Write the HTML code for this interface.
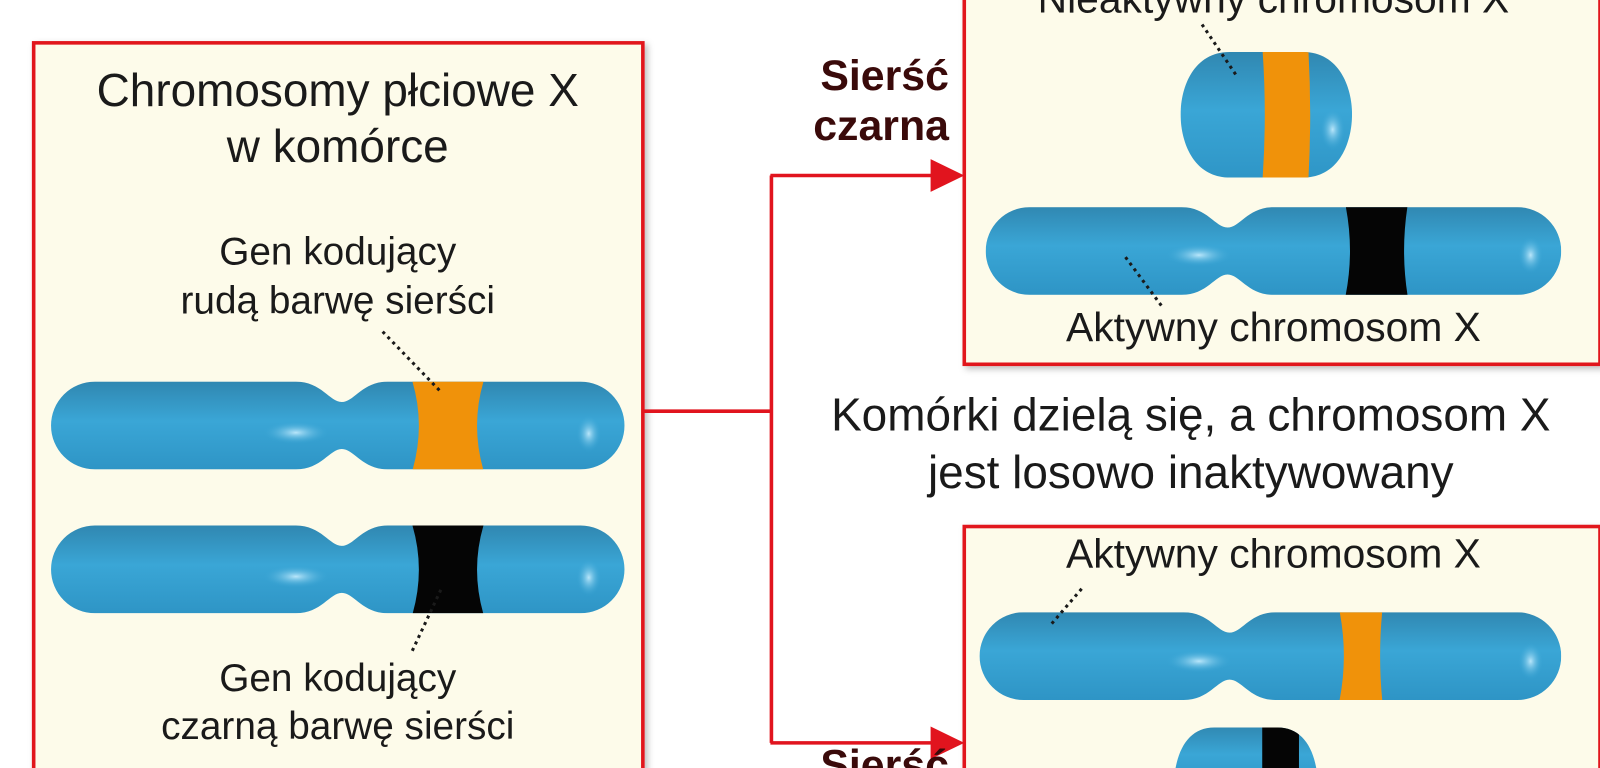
<!DOCTYPE html>
<html><head><meta charset="utf-8"><style>
html,body{margin:0;padding:0;background:#fff;width:1600px;height:768px;overflow:hidden;}
svg{display:block;}
text{font-family:"Liberation Sans","DejaVu Sans",sans-serif;fill:#1a1a1a;}
</style></head><body>
<svg width="1600" height="768" viewBox="0 0 1600 768" xmlns="http://www.w3.org/2000/svg">
<defs>
<linearGradient id="g" x1="0" y1="0" x2="0" y2="1">
<stop offset="0" stop-color="#2f84ad"/><stop offset="0.45" stop-color="#3aa6d6"/><stop offset="1" stop-color="#2d93c4"/>
</linearGradient>
<radialGradient id="hl"><stop offset="0" stop-color="#c8eeff" stop-opacity="0.9"/><stop offset="1" stop-color="#3aa6d6" stop-opacity="0"/></radialGradient>
<filter id="sh"><feDropShadow dx="3" dy="3" stdDeviation="3" flood-color="#000" flood-opacity="0.25"/></filter>
<clipPath id="c1"><path d="M93,374 L290,374 C315,374 323,394 335,394 C347,394 355,374 380,374 L569,374 A43 43 0 0 1 569,460 L380,460 C355,460 347,440 335,440 C323,440 315,460 290,460 L93,460 A43 43 0 0 1 93,374Z"/></clipPath>
<clipPath id="c3"><path d="M1009,203 L1158,203 C1183,203 1191,223 1203,223 C1215,223 1223,203 1248,203 L1487,203 A43 43 0 0 1 1487,289 L1248,289 C1223,289 1215,269 1203,269 C1191,269 1183,289 1158,289 L1009,289 A43 43 0 0 1 1009,203Z"/></clipPath>
<clipPath id="c4"><path d="M1003,600 L1160,600 C1185,600 1193,620 1205,620 C1217,620 1225,600 1250,600 L1487,600 A43 43 0 0 1 1487,686 L1250,686 C1225,686 1217,666 1205,666 C1193,666 1185,686 1160,686 L1003,686 A43 43 0 0 1 1003,600Z"/></clipPath>
<clipPath id="c5"><path d="M1205,51 L1277,51 C1312,51 1325,85 1325,112 C1325,140 1312,174 1277,174 L1205,174 C1170,174 1157,140 1157,112 C1157,85 1170,51 1205,51Z"/></clipPath>
<clipPath id="c6"><path d="M1190,713 L1252,713 C1280,713 1292,740 1292,777 L1150,777 C1150,740 1162,713 1190,713Z"/></clipPath>
</defs>
<g transform="scale(1.0204)">
<rect x="33" y="42" width="597" height="740" fill="#fdfbea" stroke="#e1141e" stroke-width="3.5" filter="url(#sh)"/>
<rect x="945" y="-10" width="623" height="367" fill="#fdfbea" stroke="#e1141e" stroke-width="3.5" filter="url(#sh)"/>
<rect x="945" y="516" width="623" height="270" fill="#fdfbea" stroke="#e1141e" stroke-width="3.5" filter="url(#sh)"/>

<path d="M631,403 H756 M756,172 V728 M755,172 H918 M755,728 H918" stroke="#e1141e" stroke-width="3.5" fill="none"/>
<polygon points="912,156 945,172 912,188" fill="#e1141e"/>
<polygon points="912,712 945,728 912,744" fill="#e1141e"/>

<g clip-path="url(#c1)">
<rect x="40" y="370" width="580" height="95" fill="url(#g)"/>
<path d="M403,370 Q418,417 403,465 L475,465 Q460,417 475,370Z" fill="#f0920a"/>
<ellipse cx="290" cy="424" rx="32" ry="11" fill="url(#hl)"/>
<ellipse cx="577" cy="425" rx="12" ry="18" fill="url(#hl)"/>
</g>
<g transform="translate(0,141)">
<g clip-path="url(#c1)">
<rect x="40" y="370" width="580" height="95" fill="url(#g)"/>
<path d="M403,370 Q418,417 403,465 L475,465 Q460,417 475,370Z" fill="#050505"/>
<ellipse cx="290" cy="424" rx="32" ry="11" fill="url(#hl)"/>
<ellipse cx="577" cy="425" rx="12" ry="18" fill="url(#hl)"/>
</g></g>

<g clip-path="url(#c5)">
<rect x="1150" y="45" width="180" height="140" fill="url(#g)"/>
<path d="M1237,45 Q1242,112 1237,180 L1282,180 Q1286,112 1282,45Z" fill="#f0920a"/>
<ellipse cx="1306" cy="127" rx="12" ry="20" fill="url(#hl)"/>
</g>
<g clip-path="url(#c3)">
<rect x="960" y="198" width="580" height="95" fill="url(#g)"/>
<path d="M1318,198 Q1328,246 1318,293 L1380,293 Q1372,246 1380,198Z" fill="#050505"/>
<ellipse cx="1175" cy="250" rx="32" ry="11" fill="url(#hl)"/>
<ellipse cx="1500" cy="250" rx="12" ry="18" fill="url(#hl)"/>
</g>

<g clip-path="url(#c4)">
<rect x="955" y="595" width="585" height="95" fill="url(#g)"/>
<path d="M1312,595 Q1322,643 1312,690 L1355,690 Q1350,643 1355,595Z" fill="#f0920a"/>
<ellipse cx="1175" cy="648" rx="32" ry="11" fill="url(#hl)"/>
<ellipse cx="1500" cy="648" rx="12" ry="18" fill="url(#hl)"/>
</g>
<g clip-path="url(#c6)">
<rect x="1140" y="708" width="160" height="70" fill="url(#g)"/>
<rect x="1237" y="708" width="36" height="70" fill="#050505"/>
</g>

<g stroke="#1a1a1a" stroke-width="3" stroke-dasharray="3,4" fill="none">
<line x1="375" y1="325" x2="433" y2="385"/>
<line x1="432" y1="578" x2="403" y2="640"/>
<line x1="1178" y1="24" x2="1211" y2="73"/>
<line x1="1103" y1="252" x2="1140" y2="302"/>
<line x1="1060" y1="577" x2="1030" y2="612"/>
</g>

<g text-anchor="middle">
<text x="331" y="104" font-size="45">Chromosomy płciowe X</text>
<text x="331" y="159" font-size="45">w komórce</text>
<text x="331" y="259" font-size="38">Gen kodujący</text>
<text x="331" y="307" font-size="38">rudą barwę sierści</text>
<text x="331" y="677" font-size="38">Gen kodujący</text>
<text x="331" y="724" font-size="38">czarną barwę sierści</text>
<text x="1248" y="12" font-size="40">Nieaktywny chromosom X</text>
<text x="1248" y="334" font-size="40">Aktywny chromosom X</text>
<text x="1248" y="556" font-size="40">Aktywny chromosom X</text>
<text x="1167" y="422" font-size="45">Komórki dzielą się, a chromosom X</text>
<text x="1167" y="478" font-size="45">jest losowo inaktywowany</text>
</g>
<g text-anchor="end" font-weight="bold" font-size="42">
<text x="930" y="88" style="fill:#3a0a0a">Sierść</text>
<text x="930" y="137" style="fill:#3a0a0a">czarna</text>
<text x="930" y="764" style="fill:#3a0a0a">Sierść</text>
</g>
</g>
</svg>
</body></html>
